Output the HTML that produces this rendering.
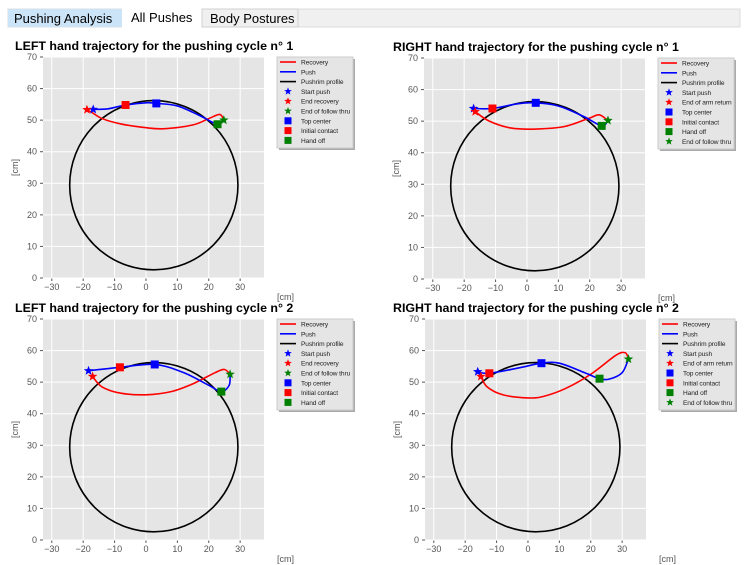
<!DOCTYPE html>
<html><head><meta charset="utf-8"><style>
body{margin:0;background:#fff;width:745px;height:565px;overflow:hidden;font-family:"Liberation Sans","DejaVu Sans",sans-serif}
svg{position:absolute;left:0;top:0}
</style></head><body>
<svg id="s" width="745" height="565" xmlns="http://www.w3.org/2000/svg">
<rect x="8" y="9" width="732" height="18" fill="#f0f0f0" stroke="#dcdcdc"/>
<g><rect x="8" y="9" width="114" height="18" fill="#cce4f7"/><text x="14" y="23" font-size="13" fill="#000">Pushing Analysis</text></g>
<g><rect x="122" y="6" width="80" height="22" fill="#fff"/><text x="131" y="22" font-size="13" fill="#000">All Pushes</text></g>
<g><rect x="202" y="9" width="96" height="18" fill="#f0f0f0" stroke="#d0d0d0"/><text x="210" y="23" font-size="13" fill="#000">Body Postures</text></g>
</svg>
<script>
const NS="http://www.w3.org/2000/svg";
const svg=document.getElementById('s');
// ---- data ----
const xTicks=[-30,-20,-10,0,10,20,30];
const yTicks=[0,10,20,30,40,50,60,70];
const rimCenter=[2.5,29.4];
const rimRadius=26.8;
const titles=["LEFT hand trajectory for the pushing cycle n° 1","RIGHT hand trajectory for the pushing cycle n° 1","LEFT hand trajectory for the pushing cycle n° 2","RIGHT hand trajectory for the pushing cycle n° 2"];
const legendLeft=["Recovery","Push","Pushrim profile","Start push","End recovery","End of follow thru","Top center","Initial contact","Hand off"];
const legendRight=["Recovery","Push","Pushrim profile","Start push","End of arm return","Top center","Initial contact","Hand off","End of follow thru"];
const recovery1L=[[24.8,50],[23.5,51.8],[20,50.5],[15,48.5],[6,47.3],[0,47.6],[-8,48.8],[-14,50.5],[-17,52.3],[-18.8,53.3]];
const push1L=[[-16.8,53.4],[-12,53.6],[-6.5,54.8],[0,55.5],[3.3,55.3],[10,54.5],[17,51.5],[22.5,48.8],[24.8,50]];
const marks1L=[[-16.8,53.4],[-18.8,53.3],[24.8,50],[3.3,55.3],[-6.5,54.8],[22.8,48.7]];
const recovery1R=[[25.8,50.2],[23,52],[20,51],[12,48.3],[3,47.5],[-5,47.8],[-12,50],[-16.5,53]];
const push1R=[[-17,54],[-11,54],[-3,55.5],[2.8,55.8],[10,54.8],[18,51.5],[23.8,48.5],[25.8,50.2]];
const marks1R=[[-17,54],[-16.5,53],[25.8,50.2],[2.8,55.8],[-11,54],[23.8,48.5]];
const recovery2L=[[26.8,52.5],[25,54],[22,53],[15,49.5],[8,47],[0,46],[-8,46.5],[-14,48.5],[-17,51.8]];
const push2L=[[-18.3,53.6],[-8.3,54.7],[2.8,55.6],[12,53],[20,49],[24,47],[26.5,49],[26.8,52.5]];
const marks2L=[[-18.3,53.6],[-17,51.8],[26.8,52.5],[2.8,55.6],[-8.3,54.7],[24,47]];
const recovery2R=[[32,57.3],[31,59.3],[28,58.5],[20,52.5],[12,48],[5,45.5],[0,45],[-8,46],[-13,48.5],[-15,51.8]];
const push2R=[[-16,53.3],[-12.3,52.8],[-3,54.5],[4.3,56],[10,56],[18,53],[22.8,51.1],[26,51],[30,53],[32,57.3]];
const marks2R=[[-16,53.3],[-15,51.8],[32,57.3],[4.3,56],[-12.3,52.8],[22.8,51.1]];
// ---- layout ----
const panels=[
 {L:43,T:57,rec:recovery1L,push:push1L,mk:marks1L,leg:legendLeft,tx:15,ty:50},
 {L:424,T:58,rec:recovery1R,push:push1R,mk:marks1R,leg:legendRight,tx:393,ty:51},
 {L:43,T:319,rec:recovery2L,push:push2L,mk:marks2L,leg:legendLeft,tx:15,ty:312},
 {L:425,T:319,rec:recovery2R,push:push2R,mk:marks2R,leg:legendRight,tx:393,ty:312}];
const W=221,H=221,XMIN=-32.8,XMAX=37.6,YMIN=0,YMAX=70;
function el(t,a,p){const e=document.createElementNS(NS,t);for(const k in a)e.setAttribute(k,a[k]);(p||svg).appendChild(e);return e;}
function cr(pts){let d="M"+pts[0][0]+","+pts[0][1];for(let i=0;i<pts.length-1;i++){const p0=pts[i-1]||pts[i],p1=pts[i],p2=pts[i+1],p3=pts[i+2]||p2;
 d+=" C"+(p1[0]+(p2[0]-p0[0])/6)+","+(p1[1]+(p2[1]-p0[1])/6)+" "+(p2[0]-(p3[0]-p1[0])/6)+","+(p2[1]-(p3[1]-p1[1])/6)+" "+p2[0]+","+p2[1];}return d;}
function star(cx,cy,r){let p=[];for(let i=0;i<10;i++){const a=-Math.PI/2+i*Math.PI/5,rr=i%2?r*0.42:r;p.push((cx+rr*Math.cos(a)).toFixed(1)+","+(cy+rr*Math.sin(a)).toFixed(1));}return p.join(" ");}
const colRec="#ff0000",colPush="#0000ff";
const markStyle=[["star",colPush],["star",colRec],["star","#008000"],["sq",colPush],["sq",colRec],["sq","#008000"]];
panels.forEach((P,pi)=>{
 const g=el('g',{});
 
 
 const sx=v=>P.L+(v-XMIN)/(XMAX-XMIN)*W, sy=v=>P.T+H-(v-YMIN)/(YMAX-YMIN)*H;
 const t=el('text',{x:P.tx,y:P.ty,'font-size':12.4,'font-weight':'bold',fill:'#000'},g);t.textContent=titles[pi];
 
 el('rect',{x:P.L,y:P.T,width:W,height:H,fill:'#e5e5e5'},g);
 xTicks.forEach(v=>{el('line',{x1:sx(v),x2:sx(v),y1:P.T,y2:P.T+H,stroke:'#fff','stroke-width':1},g);
  el('line',{x1:sx(v),x2:sx(v),y1:P.T+H,y2:P.T+H+3,stroke:'#555'},g);
  const tt=el('text',{x:sx(v),y:P.T+H+12,'font-size':9,fill:'#555','text-anchor':'middle'},g);tt.textContent=v<0?'−'+(-v):v;
  });
 yTicks.forEach(v=>{el('line',{x1:P.L,x2:P.L+W,y1:sy(v),y2:sy(v),stroke:'#fff','stroke-width':1},g);
  el('line',{x1:P.L-3,x2:P.L,y1:sy(v),y2:sy(v),stroke:'#555'},g);
  const tt=el('text',{x:P.L-6,y:sy(v)+3,'font-size':9,fill:'#555','text-anchor':'end'},g);tt.textContent=v;
  });
 const xl=el('text',{x:P.L+W+13,y:P.T+H+22,'font-size':9,fill:'#555'},g);xl.textContent='[cm]';
 
 const yl=el('text',{x:0,y:0,'font-size':9,fill:'#555','text-anchor':'middle',transform:'translate('+(P.L-25)+','+(P.T+H/2)+') rotate(-90)'},g);yl.textContent='[cm]';
 
 const c=el('ellipse',{cx:sx(rimCenter[0]),cy:sy(rimCenter[1]),rx:rimRadius*W/(XMAX-XMIN),ry:rimRadius*H/(YMAX-YMIN),fill:'none',stroke:'#000','stroke-width':1.6},g);
 
 const r=el('path',{d:cr(P.rec.map(p=>[sx(p[0]),sy(p[1])])),fill:'none',stroke:colRec,'stroke-width':1.6},g);
 
 const pu=el('path',{d:cr(P.push.map(p=>[sx(p[0]),sy(p[1])])),fill:'none',stroke:colPush,'stroke-width':1.6},g);
 
 P.mk.forEach((m,i)=>{const [ty,col]=markStyle[i];const X=sx(m[0]),Y=sy(m[1]);let e;
  if(ty=='star')e=el('polygon',{points:star(X,Y,5),fill:col},g);else e=el('rect',{x:X-4,y:Y-4,width:8,height:8,fill:col},g);
  });
 // legend
 const lx=P.L+W+13,ly=P.T;
 const lg=el('g',{},g);
 el('rect',{x:lx+2,y:ly+2,width:76,height:91,fill:'#aaa'},lg);
 el('rect',{x:lx,y:ly,width:76,height:91,fill:'#e5e5e5',stroke:'#ccc'},lg);
 const right=P.leg===legendRight;
 P.leg.forEach((name,i)=>{const cy=ly+5+i*9.8;
  const le=el('g',{},lg);
  if(i<3)el('line',{x1:lx+3,x2:lx+19,y1:cy,y2:cy,stroke:[colRec,colPush,'#000'][i],'stroke-width':1.6},le);
  else{let k=i-3;if(right){k=[0,1,3,4,5,2][i-3];}const [ty,col]=markStyle[k];
   if(ty=='star')el('polygon',{points:star(lx+11,cy,4),fill:col},le);else el('rect',{x:lx+7.5,y:cy-3.5,width:7,height:7,fill:col},le);}
  const tt=el('text',{x:lx+24,y:cy+2.5,'font-size':6.6,'letter-spacing':'-0.1',fill:'#222'},le);tt.textContent=name;});
});
</script>
</body></html>
